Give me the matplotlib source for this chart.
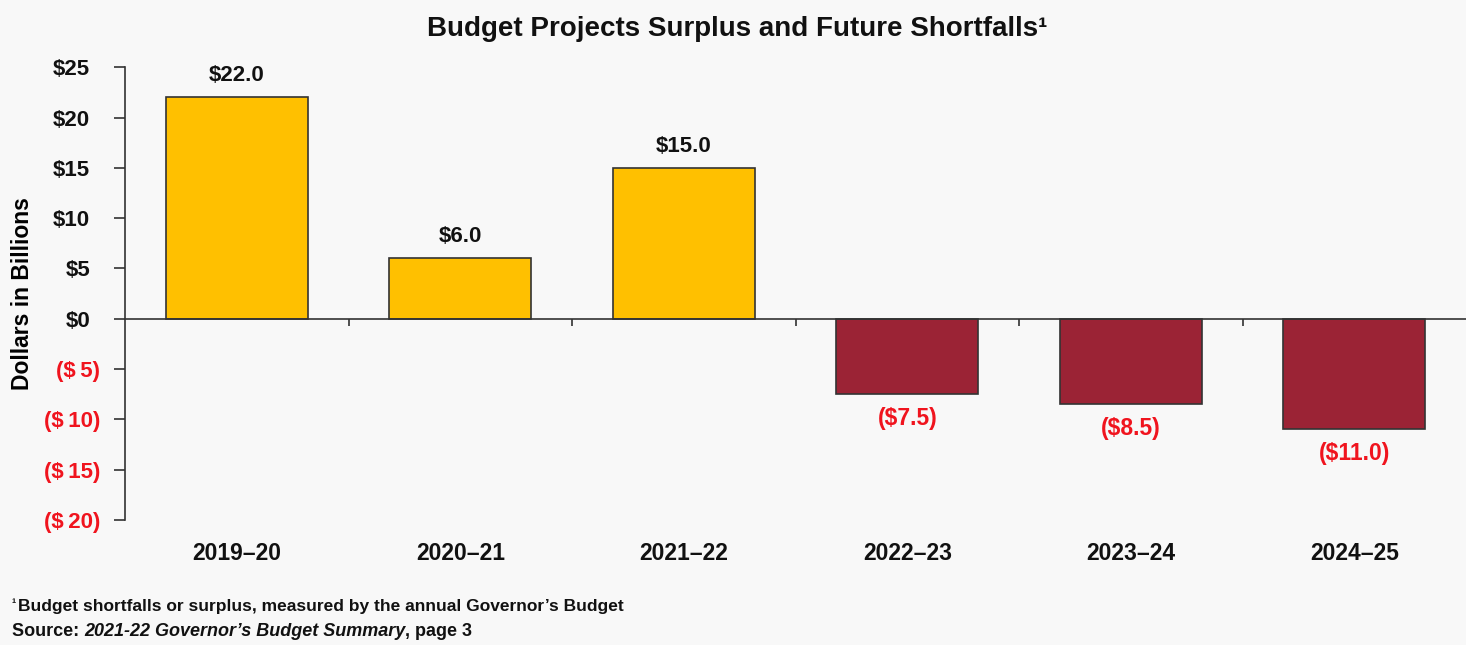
import numpy as np
import matplotlib
matplotlib.use("Agg")
from matplotlib import pyplot as plt
from matplotlib import transforms

plt.rcParams['font.family'] = ['Liberation Sans Narrow', 'Liberation Sans', 'DejaVu Sans']

years = ['2019\u201320', '2020\u201321', '2021\u201322', '2022\u201323', '2023\u201324', '2024\u201325']
values = [22.0, 6.0, 15.0, -7.5, -8.5, -11.0]
yticks = [-20, -15, -10, -5, 0, 5, 10, 15, 20, 25]
ytick_labels = ['($\u200920)', '($\u200915)', '($\u200910)', '($\u20095)', '$0', '$5', '$10', '$15', '$20', '$25']

gold = '#FFC000'
maroon = '#9B2335'
red = '#F0141E'
bg = '#F8F8F8'

fig = plt.figure(figsize=(14.66, 6.45), dpi=100, facecolor=bg)
ax = fig.add_axes([0.0853, 0.1938, 0.9147, 0.702])
ax.set_facecolor(bg)

x = np.arange(len(years))
colors = [gold if v >= 0 else maroon for v in values]
bars = ax.bar(x, values, width=0.635, color=colors, edgecolor='#333333', linewidth=1.2, zorder=2)

# value labels: above for surplus, below (red) for shortfall
for b, v in zip(bars, values):
    cx = b.get_x() + b.get_width() / 2
    if v >= 0:
        ax.annotate(f'${v:.1f}', (cx, v), xytext=(0, 8), textcoords='offset points',
                    ha='center', va='bottom', fontsize=16, fontweight='bold', color='#111111')
    else:
        ax.annotate(f'(${-v:.1f})', (cx, v), xytext=(0, -9), textcoords='offset points',
                    ha='center', va='top', fontsize=16.5, fontweight='bold', color=red)

ax.set_xlim(-0.5, 5.5)
ax.set_ylim(-20, 25)

for s in ['top', 'right']:
    ax.spines[s].set_visible(False)
ax.spines['bottom'].set_position(('data', 0))
ax.spines['bottom'].set_linewidth(1.2)
ax.spines['left'].set_linewidth(1.2)
ax.spines['left'].set_color('#333333')
ax.spines['bottom'].set_color('#333333')

ax.set_yticks(yticks)
ax.set_yticklabels([])
ax.tick_params(axis='y', direction='out', length=8, width=1.2, color='#333333')

# accounting-style labels: negatives in parentheses hang past the positives
ytrans = transforms.blended_transform_factory(ax.transAxes, ax.transData)
for t, s in zip(yticks, ytick_labels):
    off = -18 if t < 0 else -25
    ax.annotate(s, (0, t), xycoords=ytrans, xytext=(off, 0), textcoords='offset points',
                ha='right', va='center_baseline', fontsize=16, fontweight='bold',
                color=red if t < 0 else '#111111', annotation_clip=False)

# ticks between categories on the zero line
ax.set_xticks(np.arange(0.5, 5.5, 1.0))
ax.set_xticklabels([])
ax.tick_params(axis='x', direction='out', length=5, width=1.2, color='#333333')

trans = transforms.blended_transform_factory(ax.transData, ax.transAxes)
for xi, yr in zip(x, years):
    ax.text(xi, -0.075, yr, transform=trans, ha='center', va='center',
            fontsize=16.5, fontweight='bold', color='#111111')

ax.set_ylabel('Dollars in Billions', fontsize=16.5, fontweight='bold')
ax.yaxis.set_label_coords(-0.068, 0.5)

fig.text(0.503, 0.955, 'Budget Projects Surplus and Future Shortfalls\u00b9', ha='center', va='center',
         fontsize=20, fontweight='bold', color='#111111')

# footnote and source line
fig.text(0.008, 0.054, '\u00b9', fontsize=9, fontweight='bold', va='bottom', color='#111111')
fig.text(0.0125, 0.048, 'Budget shortfalls or surplus, measured by the annual Governor\u2019s Budget',
         fontsize=12.5, fontweight='bold', va='bottom', color='#111111')
src = fig.text(0.008, 0.008, 'Source: ', fontsize=13, fontweight='bold', va='bottom', color='#111111')
it = ax.annotate('2021-22 Governor\u2019s Budget Summary', xy=(1, 0), xycoords=src,
                 va='bottom', fontsize=13, fontweight='bold', style='italic', color='#111111')
ax.annotate(', page 3', xy=(1, 0), xycoords=it, va='bottom', fontsize=13,
            fontweight='bold', color='#111111')

fig.savefig('out.png', dpi=100, facecolor=bg)
